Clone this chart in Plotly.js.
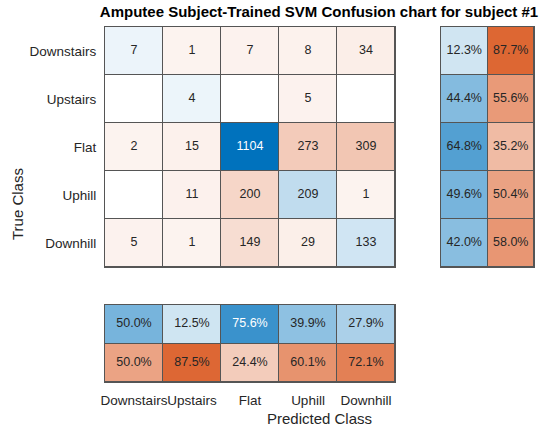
<!DOCTYPE html>
<html>
<head>
<meta charset="utf-8">
<script src="https://cdn.plot.ly/plotly-3.0.1.min.js"></script>
<style>
  html, body { margin: 0; padding: 0; background: #fff; }
  #chart { width: 550px; height: 433px; }
</style>
</head>
<body>
<div id="chart"></div>
<script>
// class names (rows = true class, columns = predicted class)
const classes = ['Downstairs', 'Upstairs', 'Flat', 'Uphill', 'Downhill'];

// confusion counts, one array per true class
const rowDownstairs = [7, 1, 7, 8, 34];
const rowUpstairs = [0, 4, 0, 5, 0];
const rowFlat = [2, 15, 1104, 273, 309];
const rowUphill = [0, 11, 200, 209, 1];
const rowDownhill = [5, 1, 149, 29, 133];
const counts = [rowDownstairs, rowUpstairs, rowFlat, rowUphill, rowDownhill];

// row summary (per true class), percent
const rowCorrect = [12.3, 44.4, 64.8, 49.6, 42.0];
const rowWrong = [87.7, 55.6, 35.2, 50.4, 58.0];

// column summary (per predicted class), percent
const colCorrect = [50.0, 12.5, 75.6, 39.9, 27.9];
const colWrong = [50.0, 87.5, 24.4, 60.1, 72.1];

const BLUE = [0, 114, 189];
const ORANGE = [217, 83, 25];
const TINT = 0.07; // lightest shade used for any non-zero cell
const BORDER = '#555555';
const TXT = '#262626';
const FONT = 'Liberation Sans, Arial, Helvetica, sans-serif';

function mix(base, t) {
  return base.map(v => Math.round(255 - (255 - v) * t));
}
function rgb(c) {
  return 'rgb(' + c.join(',') + ')';
}

// orange (negative) -> white (zero) -> blue (positive), with a small jump off white
const colorscale = [
  [0, rgb(ORANGE)],
  [0.49999, rgb(mix(ORANGE, TINT))],
  [0.5, 'rgb(255,255,255)'],
  [0.50001, rgb(mix(BLUE, TINT))],
  [1, rgb(BLUE)],
];

// readable text colour for a cell with fraction f of the max
function textColor(base, f) {
  const c = mix(base, TINT + (1 - TINT) * f);
  const luma = 0.299 * c[0] + 0.587 * c[1] + 0.114 * c[2];
  return luma < 129 ? '#ffffff' : TXT;
}

const maxCount = Math.max(...counts.flat());

// main matrix: diagonal positive, off-diagonal negative
const mainZ = counts.map((row, i) => row.map((v, j) => (i === j ? v : -v)));

const mainText = { x: [], y: [], text: [], color: [] };
counts.forEach((row, i) => {
  row.forEach((v, j) => {
    if (v === 0) return;
    mainText.x.push(j);
    mainText.y.push(i);
    mainText.text.push(String(v));
    mainText.color.push(textColor(i === j ? BLUE : ORANGE, v / maxCount));
  });
});

// right summary: column 0 correct, column 1 wrong
const rightZ = rowCorrect.map((c, i) => [c, -rowWrong[i]]);
const rightText = { x: [], y: [], text: [], color: [] };
rowCorrect.forEach((c, i) => {
  rightText.x.push(0, 1);
  rightText.y.push(i, i);
  rightText.text.push(c.toFixed(1) + '%', rowWrong[i].toFixed(1) + '%');
  rightText.color.push(textColor(BLUE, c / 100), textColor(ORANGE, rowWrong[i] / 100));
});

// bottom summary: row 0 correct, row 1 wrong
const bottomZ = [colCorrect, colWrong.map(v => -v)];
const bottomText = { x: [], y: [], text: [], color: [] };
colCorrect.forEach((c, j) => {
  bottomText.x.push(j, j);
  bottomText.y.push(0, 1);
  bottomText.text.push(c.toFixed(1) + '%', colWrong[j].toFixed(1) + '%');
  bottomText.color.push(textColor(BLUE, c / 100), textColor(ORANGE, colWrong[j] / 100));
});

function heat(z, zmax, xa, ya) {
  return {
    type: 'heatmap',
    z: z,
    zmin: -zmax,
    zmax: zmax,
    colorscale: colorscale,
    showscale: false,
    xgap: 1,
    ygap: 1,
    hoverinfo: 'skip',
    xaxis: xa,
    yaxis: ya,
  };
}

function labels(t, xa, ya) {
  return {
    type: 'scatter',
    mode: 'text',
    x: t.x,
    y: t.y,
    text: t.text,
    textposition: 'middle center',
    textfont: { family: FONT, size: 12.5, color: t.color },
    hoverinfo: 'skip',
    showlegend: false,
    xaxis: xa,
    yaxis: ya,
  };
}

const data = [
  heat(mainZ, maxCount, 'x', 'y'),
  labels(mainText, 'x', 'y'),
  heat(rightZ, 100, 'x2', 'y2'),
  labels(rightText, 'x2', 'y2'),
  heat(bottomZ, 100, 'x3', 'y3'),
  labels(bottomText, 'x3', 'y3'),
];

const H = 433, W = 550;
const px = v => v / W;
const py = v => 1 - v / H;

const boxAxis = {
  showline: true,
  mirror: true,
  linecolor: BORDER,
  linewidth: 1,
  zeroline: false,
  showgrid: false,
  fixedrange: true,
};

const layout = {
  width: W,
  height: H,
  margin: { l: 0, r: 0, t: 0, b: 0 },
  paper_bgcolor: '#ffffff',
  plot_bgcolor: BORDER,
  showlegend: false,
  font: { family: FONT, color: TXT },
  title: {
    text: 'Amputee Subject-Trained SVM Confusion chart for subject #1',
    font: { family: FONT, size: 15, color: '#000000', weight: 'bold' },
    x: px(319),
    y: py(12),
    xanchor: 'center',
    yanchor: 'middle',
  },
  xaxis: Object.assign({}, boxAxis, {
    domain: [px(105), px(395)],
    range: [-0.5, 4.5],
    showticklabels: false,
    ticks: '',
  }),
  yaxis: Object.assign({}, boxAxis, {
    domain: [py(267), py(27)],
    range: [4.5, -0.5],
    tickvals: [0, 1, 2, 3, 4],
    ticktext: classes,
    ticks: 'outside',
    ticklen: 5,
    tickcolor: 'rgba(0,0,0,0)',
    tickfont: { family: FONT, size: 13.5, color: TXT },
  }),
  xaxis2: Object.assign({}, boxAxis, {
    domain: [px(441), px(534)],
    range: [-0.5, 1.5],
    showticklabels: false,
    ticks: '',
    anchor: 'y2',
  }),
  yaxis2: Object.assign({}, boxAxis, {
    domain: [py(267), py(27)],
    range: [4.5, -0.5],
    showticklabels: false,
    ticks: '',
    anchor: 'x2',
  }),
  xaxis3: Object.assign({}, boxAxis, {
    domain: [px(105), px(395)],
    range: [-0.5, 4.5],
    tickvals: [0, 1, 2, 3, 4],
    ticktext: classes,
    tickangle: 0,
    ticks: 'outside',
    ticklen: 6,
    tickcolor: 'rgba(0,0,0,0)',
    tickfont: { family: FONT, size: 13.5, color: TXT },
    anchor: 'y3',
  }),
  yaxis3: Object.assign({}, boxAxis, {
    domain: [py(382), py(305)],
    range: [1.5, -0.5],
    showticklabels: false,
    ticks: '',
    anchor: 'x3',
  }),
  annotations: [
    {
      text: 'Predicted Class',
      xref: 'paper', yref: 'paper',
      x: px(319.5), y: py(418),
      xanchor: 'center', yanchor: 'middle',
      showarrow: false,
      font: { family: FONT, size: 15, color: TXT },
    },
    {
      text: 'True Class',
      xref: 'paper', yref: 'paper',
      x: px(17), y: py(204),
      xanchor: 'center', yanchor: 'middle',
      textangle: -90,
      showarrow: false,
      font: { family: FONT, size: 15, color: TXT },
    },
  ],
};

Plotly.newPlot('chart', data, layout, { displayModeBar: false, staticPlot: true });
</script>
</body>
</html>
